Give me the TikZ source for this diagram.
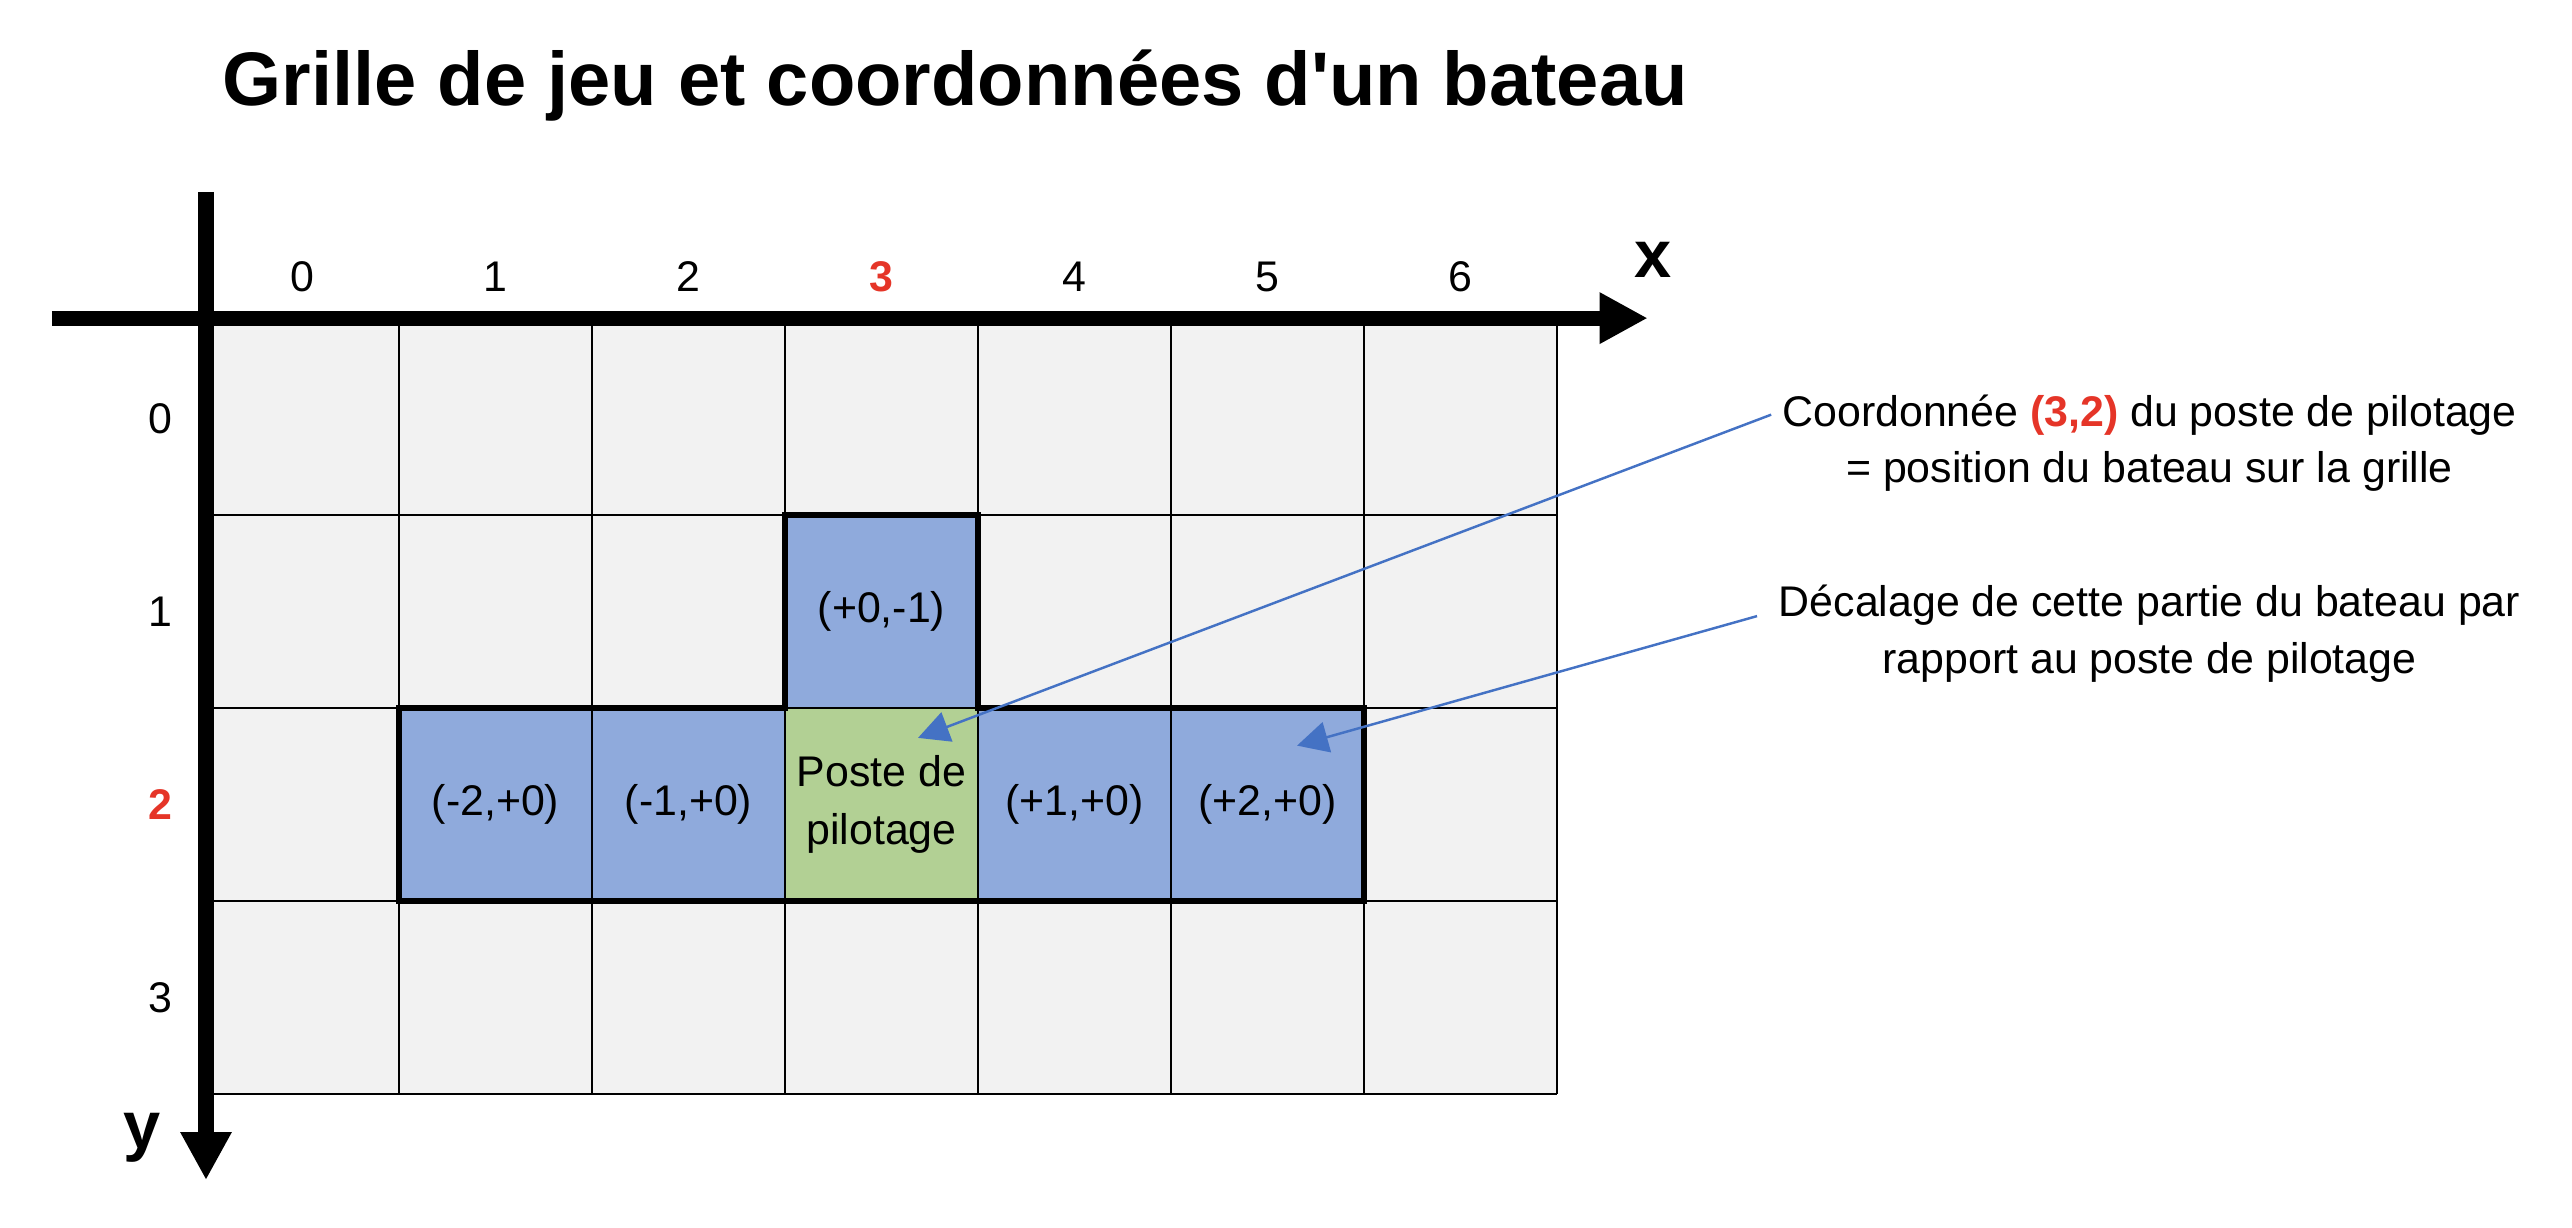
\documentclass[tikz,border=0pt]{standalone}
\usepackage{fontspec}
\setmainfont{Liberation Sans}
\usetikzlibrary{arrows.meta,positioning}
\definecolor{cellgray}{HTML}{F2F2F2}
\definecolor{shipblue}{HTML}{8FAADC}
\definecolor{postgreen}{HTML}{B2D094}
\definecolor{markred}{HTML}{E53528}
\definecolor{pointerblue}{HTML}{4472C4}
\begin{document}
\begin{tikzpicture}[x=1.93cm,y=1.93cm,
		lbl/.style={font=\fontsize{12.2}{16.5}\selectfont, inner sep=0pt},
		note/.style={font=\fontsize{12.2}{16.5}\selectfont, inner sep=0pt, anchor=base},
		axlbl/.style={font=\fontsize{19}{22}\selectfont\bfseries, inner sep=0pt, anchor=base},
		axis/.style={line width=4.3pt, -{Triangle[length=0.48cm,width=0.48cm]}},
		gridline/.style={line width=0.6pt, xstep=1.93cm, ystep=1.93cm},
		hull/.style={line width=1.8pt, line join=miter},
		pointer/.style={pointerblue, line width=0.7pt, -{Triangle[length=0.31cm,width=0.31cm]}}]
			\useasboundingbox (-1.0674,1.6684) rectangle (12.259,-4.6943);

			\draw (0.083,1.124) node[anchor=base west, inner sep=0pt, font=\fontsize{21.6}{26}\selectfont\bfseries] (title) {Grille de jeu et coordonnées d\textquotesingle un bateau};

			% grid and ship
			\fill[cellgray] (0,0) rectangle (7,-4);
			\fill[shipblue] (3,-1) rectangle (4,-2);
			\fill[shipblue] (1,-2) rectangle (3,-3);
			\fill[postgreen] (3,-2) rectangle (4,-3);
			\fill[shipblue] (4,-2) rectangle (6,-3);
			\draw[gridline] (0,0) grid (7,-4);
			\draw[hull] (1,-2) -- (3,-2) -- (3,-1) -- (4,-1) -- (4,-2) -- (6,-2) -- (6,-3) -- (1,-3) -- cycle;

			% axes
			\draw[axis] (-0.798,0.02) -- (7.47,0.02);
			\draw[axis] (0,0.674) -- (0,-4.446);
			\draw (7.50,0.228) node[axlbl] (xlab) {x};
			\draw (-0.33,-4.28) node[axlbl] (ylab) {y};

			\draw (0.5,0.233) node[lbl] (col0) {0};
			\draw (1.5,0.233) node[lbl] (col1) {1};
			\draw (2.5,0.233) node[lbl] (col2) {2};
			\draw (3.5,0.233) node[lbl, text=markred, font=\fontsize{12.2}{16.5}\selectfont\bfseries] (col3) {3};
			\draw (4.5,0.233) node[lbl] (col4) {4};
			\draw (5.5,0.233) node[lbl] (col5) {5};
			\draw (6.5,0.233) node[lbl] (col6) {6};

			\draw (-0.238,-0.5) node[lbl] (row0) {0};
			\draw (-0.238,-1.5) node[lbl] (row1) {1};
			\draw (-0.238,-2.5) node[lbl, text=markred, font=\fontsize{12.2}{16.5}\selectfont\bfseries] (row2) {2};
			\draw (-0.238,-3.5) node[lbl] (row3) {3};

			% ship parts
			\draw (3.5,-1.5) node[lbl] (partTop) {(+0,-1)};
			\draw (1.5,-2.5) node[lbl] (partL2) {(-2,+0)};
			\draw (2.5,-2.5) node[lbl] (partL1) {(-1,+0)};
			\draw (3.5,-2.5) node[lbl, align=center] (post) {Poste de\\pilotage};
			\draw (4.5,-2.5) node[lbl] (partR1) {(+1,+0)};
			\draw (5.5,-2.5) node[lbl] (partR2) {(+2,+0)};

			% notes
			\draw (10.07,-0.539) node[note] (posA) {Coordonnée {\bfseries\color{markred}(3,2)} du poste de pilotage};
			\draw (10.07,-0.834) node[note] (posB) {= position du bateau sur la grille};
			\draw (10.07,-1.528) node[note] (offA) {Décalage de cette partie du bateau par};
			\draw (10.07,-1.819) node[note] (offB) {rapport au poste de pilotage};

			\coordinate (tipA) at (3.689,-2.155);
			\coordinate (tipB) at (5.653,-2.195);
			\draw[pointer] ([xshift=-3pt]posA.west) -- (tipA);
			\draw[pointer] ([xshift=-6pt,yshift=-3pt]offA.west) -- (tipB);
		\end{tikzpicture}
\end{document}
